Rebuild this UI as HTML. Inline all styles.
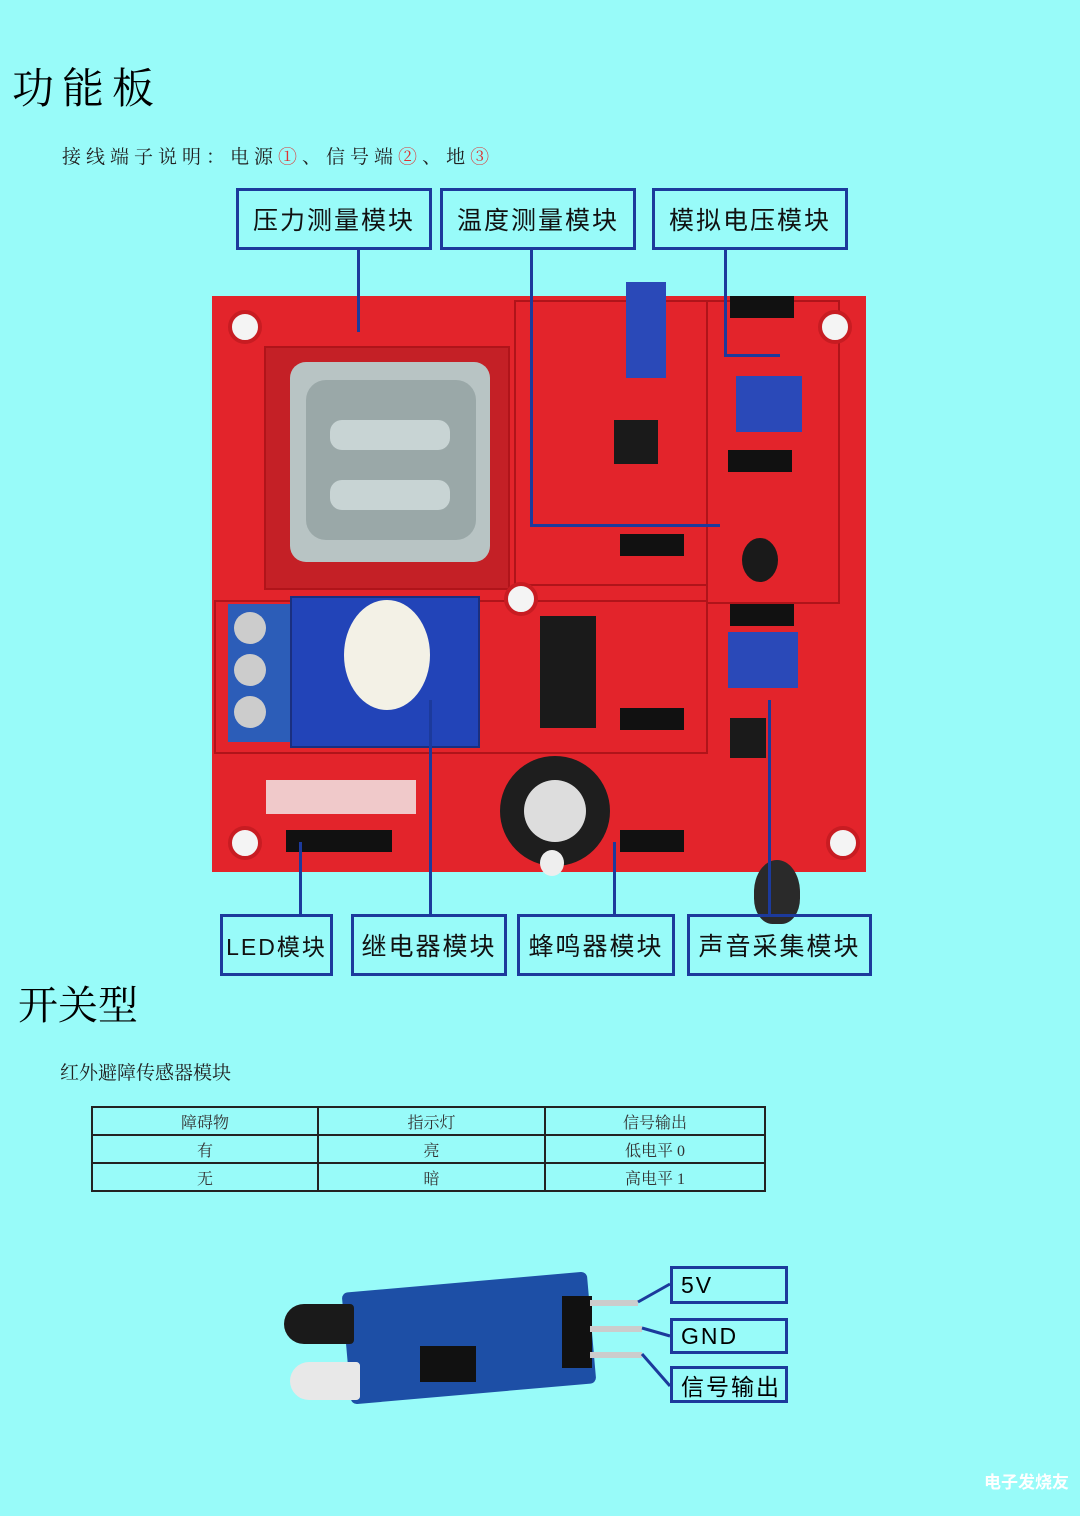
<!DOCTYPE html>
<html><head><meta charset="utf-8"><style>
body{margin:0;width:1080px;height:1516px;background:#98fbf9;position:relative;overflow:hidden;font-family:"Liberation Sans","Noto Sans CJK SC",sans-serif;}
.a{position:absolute}
.box{position:absolute;border:3px solid #1c3a9c;box-sizing:border-box;font-size:25px;color:#111;display:flex;align-items:center;justify-content:center;letter-spacing:2px}
.ln{position:absolute;background:#1c3a9c}
.pcb{position:absolute;background:#e3242b}
.sc{position:absolute;border:2px solid #b0141a}
.hole{position:absolute;width:34px;height:34px;border-radius:50%;background:#f4f4f4;border:4px solid #c81c22;box-sizing:border-box}
table{border-collapse:collapse;font-family:"Liberation Serif","Noto Serif CJK SC",serif;font-size:16px;color:#333}
td{border:2px solid #222;text-align:center;height:26px;padding:0}
.bx{position:absolute;border:3px solid #1c3a9c;box-sizing:border-box;font-size:23px;display:flex;align-items:center;padding-left:8px;letter-spacing:2px}
</style></head><body>
<div class="a" style="left:12px;top:56px;font-size:42px;font-family:'Liberation Serif','Noto Serif CJK SC',serif;letter-spacing:8px">功能板</div>
<div class="a" style="left:62px;top:142px;font-size:19px;letter-spacing:5px;font-family:'Liberation Serif','Noto Serif CJK SC',serif;color:#222">接线端子说明：电源<span style="color:#d33">①</span>、信号端<span style="color:#d33">②</span>、地<span style="color:#d33">③</span></div>

<!-- board -->
<div class="pcb" style="left:212px;top:296px;width:654px;height:576px"></div>
<div class="sc" style="left:264px;top:346px;width:242px;height:240px;background:#c42026"></div>
<div class="a" style="left:290px;top:362px;width:200px;height:200px;background:#b8c4c4;border-radius:16px"></div>
<div class="a" style="left:306px;top:380px;width:170px;height:160px;background:#9aa8a8;border-radius:20px"></div>
<div class="a" style="left:330px;top:420px;width:120px;height:30px;background:#c8d4d4;border-radius:12px"></div>
<div class="a" style="left:330px;top:480px;width:120px;height:30px;background:#c8d4d4;border-radius:12px"></div>
<div class="sc" style="left:514px;top:300px;width:190px;height:282px"></div>
<div class="sc" style="left:706px;top:300px;width:130px;height:300px"></div>
<div class="sc" style="left:214px;top:600px;width:490px;height:150px"></div>
<div class="a" style="left:290px;top:596px;width:186px;height:148px;background:#2244b8;border:2px solid #1a2f80"></div>
<div class="a" style="left:344px;top:600px;width:86px;height:110px;background:#f3f1e6;border-radius:50%"></div>
<div class="a" style="left:228px;top:604px;width:62px;height:138px;background:#2c5db8"></div>
<div class="a" style="left:234px;top:612px;width:32px;height:32px;border-radius:50%;background:#ccc"></div>
<div class="a" style="left:234px;top:654px;width:32px;height:32px;border-radius:50%;background:#ccc"></div>
<div class="a" style="left:234px;top:696px;width:32px;height:32px;border-radius:50%;background:#ccc"></div>
<div class="a" style="left:500px;top:756px;width:110px;height:110px;border-radius:50%;background:#1e1e1e"></div>
<div class="a" style="left:524px;top:780px;width:62px;height:62px;border-radius:50%;background:#ddd"></div>
<div class="a" style="left:540px;top:850px;width:24px;height:26px;border-radius:50%;background:#eee"></div>
<div class="a" style="left:736px;top:376px;width:66px;height:56px;background:#2a49b8"></div>
<div class="a" style="left:728px;top:632px;width:70px;height:56px;background:#2a49b8"></div>
<div class="a" style="left:626px;top:282px;width:40px;height:96px;background:#2a49b8"></div>
<div class="a" style="left:742px;top:538px;width:36px;height:44px;border-radius:50%;background:#1a1a1a"></div>
<div class="a" style="left:614px;top:420px;width:44px;height:44px;background:#1a1a1a"></div>
<div class="a" style="left:730px;top:718px;width:36px;height:40px;background:#1a1a1a"></div>
<div class="a" style="left:540px;top:616px;width:56px;height:112px;background:#1a1a1a"></div>
<div class="a" style="left:620px;top:708px;width:64px;height:22px;background:#111"></div>
<div class="a" style="left:620px;top:830px;width:64px;height:22px;background:#111"></div>
<div class="a" style="left:286px;top:830px;width:106px;height:22px;background:#111"></div>
<div class="a" style="left:730px;top:296px;width:64px;height:22px;background:#111"></div>
<div class="a" style="left:728px;top:450px;width:64px;height:22px;background:#111"></div>
<div class="a" style="left:620px;top:534px;width:64px;height:22px;background:#111"></div>
<div class="a" style="left:730px;top:604px;width:64px;height:22px;background:#111"></div>
<div class="a" style="left:266px;top:780px;width:150px;height:34px;background:#f2f2f2;opacity:.8"></div>
<div class="a" style="left:754px;top:860px;width:46px;height:64px;border-radius:50% 50% 40% 40%;background:#2a2a2a"></div>
<div class="hole" style="left:228px;top:310px"></div><div class="hole" style="left:818px;top:310px"></div>
<div class="hole" style="left:228px;top:826px"></div><div class="hole" style="left:826px;top:826px"></div>
<div class="hole" style="left:504px;top:582px"></div>

<!-- labels -->
<div class="box" style="left:236px;top:188px;width:196px;height:62px">压力测量模块</div>
<div class="box" style="left:440px;top:188px;width:196px;height:62px">温度测量模块</div>
<div class="box" style="left:652px;top:188px;width:196px;height:62px">模拟电压模块</div>
<div class="ln" style="left:357px;top:250px;width:3px;height:82px"></div>
<div class="ln" style="left:530px;top:250px;width:3px;height:276px"></div>
<div class="ln" style="left:530px;top:524px;width:190px;height:3px"></div>
<div class="ln" style="left:724px;top:250px;width:3px;height:106px"></div>
<div class="ln" style="left:724px;top:354px;width:56px;height:3px"></div>
<div class="ln" style="left:299px;top:842px;width:3px;height:72px"></div>
<div class="ln" style="left:429px;top:700px;width:3px;height:214px"></div>
<div class="ln" style="left:613px;top:842px;width:3px;height:72px"></div>
<div class="ln" style="left:768px;top:700px;width:3px;height:214px"></div>
<div class="box" style="left:220px;top:914px;width:113px;height:62px;font-size:23px">LED模块</div>
<div class="box" style="left:351px;top:914px;width:156px;height:62px">继电器模块</div>
<div class="box" style="left:517px;top:914px;width:158px;height:62px">蜂鸣器模块</div>
<div class="box" style="left:687px;top:914px;width:185px;height:62px">声音采集模块</div>

<div class="a" style="left:18px;top:974px;font-size:40px;font-family:'Liberation Serif','Noto Serif CJK SC',serif">开关型</div>
<div class="a" style="left:60px;top:1058px;font-size:19px;font-family:'Liberation Serif','Noto Serif CJK SC',serif;color:#222">红外避障传感器模块</div>
<table class="a" style="left:91px;top:1106px;width:675px">
<tr><td style="width:224px">障碍物</td><td style="width:225px">指示灯</td><td>信号输出</td></tr>
<tr><td>有</td><td>亮</td><td>低电平 0</td></tr>
<tr><td>无</td><td>暗</td><td>高电平 1</td></tr></table>

<!-- sensor -->
<div class="a" style="left:346px;top:1282px;width:246px;height:112px;background:#1d4fa6;transform:rotate(-5deg);border-radius:6px"></div>
<div class="a" style="left:284px;top:1304px;width:70px;height:40px;background:#1a1a1a;border-radius:20px 4px 4px 20px"></div>
<div class="a" style="left:290px;top:1362px;width:70px;height:38px;background:#e8e8e8;border-radius:20px 4px 4px 20px"></div>
<div class="a" style="left:562px;top:1296px;width:30px;height:72px;background:#111"></div>
<div class="a" style="left:590px;top:1300px;width:48px;height:6px;background:#ccc"></div>
<div class="a" style="left:590px;top:1326px;width:52px;height:6px;background:#ccc"></div>
<div class="a" style="left:590px;top:1352px;width:52px;height:6px;background:#ccc"></div>
<div class="a" style="left:420px;top:1346px;width:56px;height:36px;background:#111"></div>
<div class="bx" style="left:670px;top:1266px;width:118px;height:38px">5V</div>
<div class="bx" style="left:670px;top:1318px;width:118px;height:36px">GND</div>
<div class="bx" style="left:670px;top:1366px;width:118px;height:37px">信号输出</div>
<svg class="a" style="left:630px;top:1270px" width="50" height="130"><path d="M8 32 L40 14 M12 58 L40 66 M12 84 L40 116" stroke="#1c3a9c" stroke-width="3" fill="none"/></svg>
<div class="a" style="left:984px;top:1468px;font-size:17px;color:#fff;font-weight:bold">电子发烧友</div>
</body></html>
